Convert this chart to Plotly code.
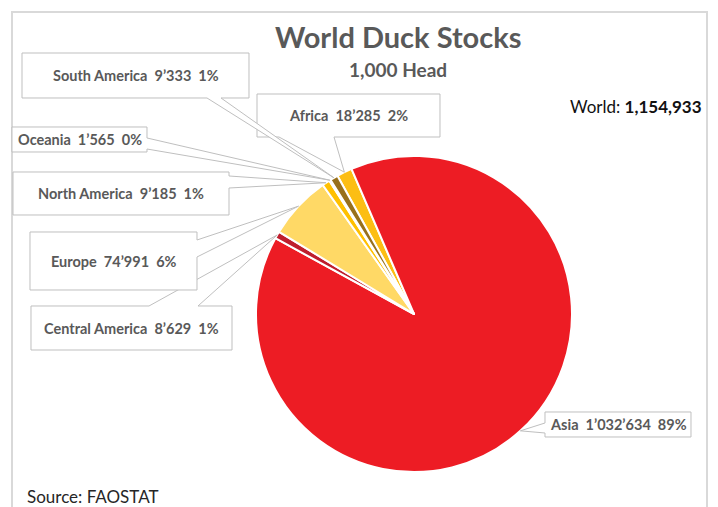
import math
import plotly.graph_objects as go

W, H = 718, 507

# ---------------- data ----------------
regions = ["Africa", "Asia", "Central America", "Europe", "North America", "Oceania", "South America"]
stocks = [18285, 1032634, 8629, 74991, 9185, 1565, 9333]
world_total = 1154933
colors = ["#FCBE14", "#ED1C24", "#BE1E2D", "#FFD966", "#FFC000", "#7F6000", "#98701C"]

title = "World Duck Stocks"
subtitle = "1,000 Head"
source = "Source: FAOSTAT"

# ---------------- layout parameters (pixels in the page) ----------------
OFF = 8  # page body margin
pie_cx, pie_cy, pie_r = 414, 314, 158
rotation = -29

callouts = {
    "South America": dict(box=(22, 53, 249, 98), edge="bottom", base=(207, 221)),
    "Africa": dict(box=(257, 94, 440, 137), edge="bottom", base=(279, 334)),
    "Oceania": dict(box=(12, 127, 147, 152), edge="right", base=(138, 149)),
    "North America": dict(box=(13, 172, 229, 215), edge="right", base=(176, 188)),
    "Europe": dict(box=(30, 232, 197, 290), edge="right", base=(240, 257)),
    "Central America": dict(box=(31, 306, 232, 350), edge="top", base=(149, 198)),
    "Asia": dict(box=(545, 412, 691, 437), edge="left", base=(423, 433)),
}

TEXT_GRAY = "#595959"
LINE_GRAY = "#BFBFBF"
FONT = "Lato"


def fx(x):
    return (x - OFF) / W


def fy(y):
    return 1 - (y - OFF) / H


def fmt(v):
    return f"{v:,}".replace(",", "\u2019")


fig = go.Figure()
fig.add_trace(go.Pie(
    labels=regions,
    values=stocks,
    sort=False,
    direction="clockwise",
    rotation=rotation,
    marker=dict(colors=colors, line=dict(color="white", width=2)),
    textinfo="none",
    hoverinfo="label+value+percent",
    showlegend=False,
    domain=dict(x=[fx(pie_cx - pie_r), fx(pie_cx + pie_r)],
                y=[fy(pie_cy + pie_r), fy(pie_cy - pie_r)]),
))

shapes = []
annotations = []

# outer frame
shapes.append(dict(type="rect", xref="paper", yref="paper",
                   x0=fx(12), y0=fy(12), x1=fx(707), y1=fy(530),
                   line=dict(color="#D9D9D9", width=2), fillcolor="rgba(0,0,0,0)", layer="below"))

total = sum(stocks)
cum = 0
for name, v in zip(regions, stocks):
    theta = math.radians(rotation + 360 * (cum + v / 2) / total)
    cum += v
    tipx = pie_cx + pie_r * math.sin(theta)
    tipy = pie_cy - pie_r * math.cos(theta)
    c = callouts[name]
    x0, y0, x1, y1 = c["box"]
    b1, b2 = c["base"]
    pts = [(x0, y0)]
    if c["edge"] == "top":
        pts += [(b1, y0), (tipx, tipy), (b2, y0)]
    pts += [(x1, y0)]
    if c["edge"] == "right":
        pts += [(x1, b1), (tipx, tipy), (x1, b2)]
    pts += [(x1, y1)]
    if c["edge"] == "bottom":
        pts += [(b2, y1), (tipx, tipy), (b1, y1)]
    pts += [(x0, y1)]
    if c["edge"] == "left":
        pts += [(x0, b2), (tipx, tipy), (x0, b1)]
    path = "M " + " L ".join(f"{fx(px):.5f},{fy(py):.5f}" for px, py in pts) + " Z"
    shapes.append(dict(type="path", xref="paper", yref="paper", path=path,
                       line=dict(color=LINE_GRAY, width=1), fillcolor="white", layer="above"))
    pct = round(v / world_total * 100)
    annotations.append(dict(
        x=fx((x0 + x1) / 2), y=fy((y0 + y1) / 2), xref="paper", yref="paper",
        text=f"{name}\u00a0 {fmt(v)}\u00a0 {pct}%", showarrow=False,
        xanchor="center", yanchor="middle",
        font=dict(family=FONT, size=14.5, color=TEXT_GRAY, weight="bold")))

annotations.append(dict(x=fx(398), y=fy(37), xref="paper", yref="paper", text=title,
                        showarrow=False, xanchor="center", yanchor="middle",
                        font=dict(family=FONT, size=29, color=TEXT_GRAY, weight="bold")))
annotations.append(dict(x=fx(398), y=fy(70), xref="paper", yref="paper", text=subtitle,
                        showarrow=False, xanchor="center", yanchor="middle",
                        font=dict(family=FONT, size=19, color=TEXT_GRAY, weight="bold")))
annotations.append(dict(x=fx(704), y=fy(106), xref="paper", yref="paper",
                        text=f"World: <b>{world_total:,}</b>",
                        showarrow=False, xanchor="right", yanchor="middle",
                        font=dict(family=FONT, size=17, color="#111111")))
annotations.append(dict(x=fx(25), y=fy(496), xref="paper", yref="paper", text=source,
                        showarrow=False, xanchor="left", yanchor="middle",
                        font=dict(family=FONT, size=17, color="#262626")))

fig.update_layout(
    width=W, height=H, autosize=False,
    margin=dict(l=0, r=0, t=0, b=0),
    paper_bgcolor="white", plot_bgcolor="white",
    shapes=shapes, annotations=annotations,
)

fig.write_html("out.html")
